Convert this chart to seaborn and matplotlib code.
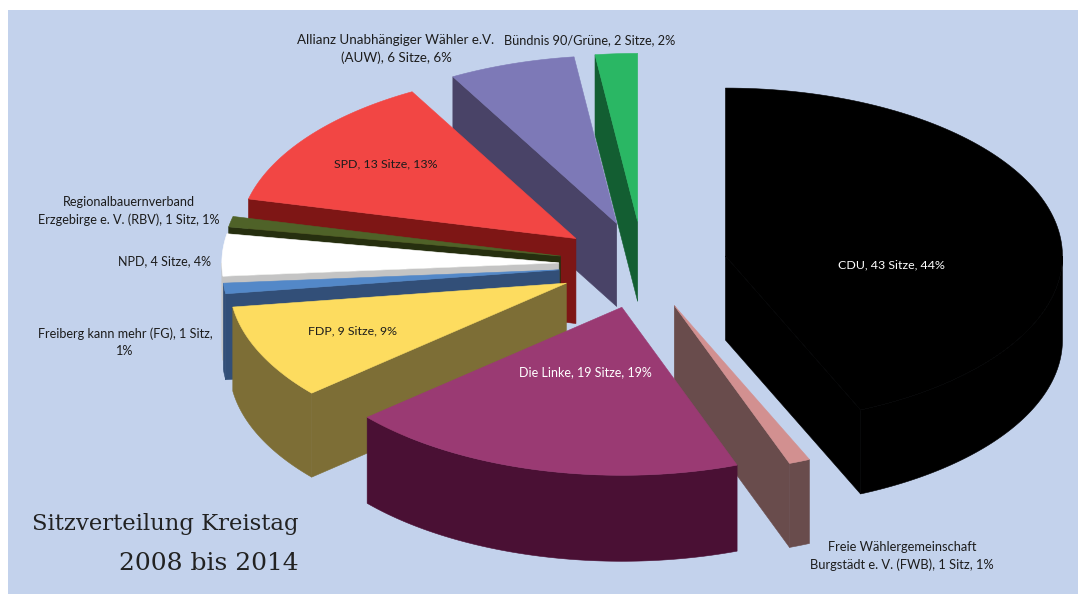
import numpy as np
import matplotlib
matplotlib.use('Agg')
import matplotlib.pyplot as plt
from matplotlib.patches import Polygon, Rectangle
import seaborn as sns

parties = ['CDU', 'FWB', 'Linke', 'FDP', 'FG', 'NPD', 'RBV', 'SPD', 'AUW', 'Gruene']
seats = [43, 1, 19, 9, 1, 4, 1, 13, 6, 2]
labels = ['CDU, 43 Sitze, 44%',
          'Freie Wählergemeinschaft\nBurgstädt e. V. (FWB), 1 Sitz, 1%',
          'Die Linke, 19 Sitze, 19%',
          'FDP, 9 Sitze, 9%',
          'Freiberg kann mehr (FG), 1 Sitz,\n1%',
          'NPD, 4 Sitze, 4%',
          'Regionalbauernverband\nErzgebirge e. V. (RBV), 1 Sitz, 1%',
          'SPD, 13 Sitze, 13%',
          'Allianz Unabhängiger Wähler e.V.\n(AUW), 6 Sitze, 6%',
          'Bündnis 90/Grüne, 2 Sitze, 2%']
top_colors = ['#000000', '#d29090', '#9a3a73', '#fddc5f', '#5388c8',
              '#ffffff', '#4f6228', '#f24644', '#7d79b7', '#2ab764']
wall_colors = ['#000000', '#694c4c', '#4a1034', '#7d6e36', '#324f78',
               '#c4c4c4', '#262f0f', '#7e1615', '#494367', '#135e32']
text_colors = ['white', '#1c1c1c', 'white', '#1c1c1c', '#1c1c1c',
               '#1c1c1c', '#1c1c1c', '#1c1c1c', '#1c1c1c', '#1c1c1c']
label_x = [891, 902, 585, 352, 125, 165, 129, 386, 396, 590]
label_y = [265, 556, 372, 331, 342, 261, 211, 164, 49, 40]
label_size = [8.9, 9.3, 9.0, 8.9, 9.1, 9.0, 9.1, 8.9, 9.6, 9.2]

BG = '#c3d2ec'
CX, CY = 643, 265
RX, RY = 337, 168
EXPLODE = 0.25
EXPLODE_Y = 0.26
DEPTH = [84, 84, 86, 84, 86, 84, 84, 85, 83, 80]

sns.set_theme(style='white')
plt.rcParams['font.family'] = ['Lato', 'DejaVu Sans']

fig, ax = plt.subplots(figsize=(10.78, 5.94), dpi=100)
fig.subplots_adjust(0, 0, 1, 1)
ax.set_xlim(0, 1078)
ax.set_ylim(594, 0)
ax.axis('off')
ax.add_patch(Rectangle((8, 10), 1070, 584, color=BG, lw=0, zorder=0))


def pt(ox, oy, a):
    # angle is clockwise from the top, the pie is squashed in y
    return ox + RX * np.sin(a), oy - RY * np.cos(a)


def face(xs, ys, color, z):
    ax.add_patch(Polygon(np.column_stack([xs, ys]), closed=True, facecolor=color,
                         edgecolor=color, lw=0.4, zorder=z))


edges = np.radians(np.concatenate([[0], np.cumsum(seats)]) / sum(seats) * 360)
mids = (edges[:-1] + edges[1:]) / 2
apex = [(CX + RX * EXPLODE * np.sin(m), CY - RY * EXPLODE_Y * np.cos(m)) for m in mids]

order = np.argsort([p[1] for p in apex])
for z, i in enumerate(order, start=1):
    a0, a1 = edges[i], edges[i + 1]
    ox, oy = apex[i]
    d = DEPTH[i]
    col = wall_colors[i]

    # radial cut faces
    if np.sin(a0) < 0:
        x, y = pt(ox, oy, a0)
        face([ox, x, x, ox], [oy, y, y + d, oy + d], col, z)
    if np.sin(a1) > 0:
        x, y = pt(ox, oy, a1)
        face([ox, x, x, ox], [oy, y, y + d, oy + d], col, z)

    # outer wall, front half only
    lo, hi = max(a0, np.pi / 2), min(a1, 3 * np.pi / 2)
    if hi > lo:
        t = np.linspace(lo, hi, 80)
        x, y = pt(ox, oy, t)
        face(np.r_[x, x[::-1]], np.r_[y, y[::-1] + d], col, z)

    # top
    t = np.linspace(a0, a1, 120)
    x, y = pt(ox, oy, t)
    face(np.r_[ox, x], np.r_[oy, y], top_colors[i], z)

for i in range(len(parties)):
    ax.text(label_x[i], label_y[i], labels[i], ha='center', va='center', fontsize=label_size[i],
            color=text_colors[i], linespacing=1.45, zorder=50)

ax.text(299, 524, 'Sitzverteilung Kreistag', ha='right', va='center', fontsize=16.4,
        family='DejaVu Serif', color='#222222', zorder=50)
ax.text(299, 563, '2008 bis 2014', ha='right', va='center', fontsize=18,
        family='DejaVu Serif', color='#222222', zorder=50)

fig.savefig('out.png', dpi=100, facecolor='white')
